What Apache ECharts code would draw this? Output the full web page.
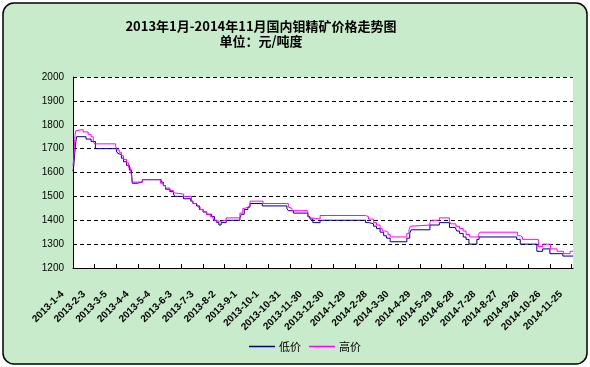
<!DOCTYPE html>
<html>
<head>
<meta charset="utf-8">
<script src="https://cdn.jsdelivr.net/npm/echarts@6/dist/echarts.min.js"></script>
<style>
html,body{margin:0;padding:0;background:#fff;}
#c{width:590px;height:367px;}
</style>
</head>
<body>
<div id="c"></div>
<script>
const titleText = '2013年1月-2014年11月国内钼精矿价格走势图';
const subTitleText = '单位：元/吨度';
const seriesNames = ['低价', '高价'];
const tickLabels = ['2013-1-4','2013-2-3','2013-3-5','2013-4-4','2013-5-4','2013-6-3','2013-7-3','2013-8-2','2013-9-1','2013-10-1','2013-10-31','2013-11-30','2013-12-30','2014-1-29','2014-2-28','2014-3-30','2014-4-29','2014-5-29','2014-6-28','2014-7-28','2014-8-27','2014-9-26','2014-10-26','2014-11-25'];
const yTicks = [1200,1300,1400,1500,1600,1700,1800,1900,2000];

const lowDates = ['2013-01-04','2013-01-05','2013-01-06','2013-01-07','2013-01-08','2013-01-09','2013-01-22','2013-01-29','2013-02-04','2013-03-05','2013-03-07','2013-03-09','2013-03-12','2013-03-15','2013-03-19','2013-03-23','2013-03-26','2013-03-27','2013-04-03','2013-04-10','2013-05-06','2013-05-09','2013-05-12','2013-05-18','2013-05-23','2013-05-25','2013-06-06','2013-06-16','2013-06-19','2013-06-24','2013-06-28','2013-07-03','2013-07-08','2013-07-15','2013-07-19','2013-07-22','2013-07-25','2013-07-28','2013-08-04','2013-08-23','2013-08-25','2013-08-29','2013-09-03','2013-09-06','2013-09-23','2013-10-27','2013-10-29','2013-11-05','2013-11-25','2013-11-28','2013-12-02','2013-12-12','2014-02-13','2014-02-18','2014-02-24','2014-02-28','2014-03-05','2014-03-10','2014-03-14','2014-03-19','2014-04-11','2014-04-15','2014-04-17','2014-05-13','2014-05-26','2014-06-09','2014-06-17','2014-06-19','2014-06-23','2014-06-28','2014-07-02','2014-07-06','2014-07-17','2014-07-20','2014-09-10','2014-09-15','2014-10-08','2014-10-16','2014-10-26','2014-11-13','2014-11-27'];
const lowPrices = [1605,1625,1665,1700,1730,1750,1740,1730,1700,1690,1680,1675,1660,1645,1630,1610,1600,1555,1560,1570,1560,1545,1530,1520,1510,1500,1490,1480,1470,1460,1445,1435,1425,1415,1400,1390,1380,1390,1400,1410,1425,1445,1455,1470,1460,1450,1440,1430,1415,1405,1390,1400,1390,1385,1375,1365,1350,1335,1325,1310,1325,1345,1360,1380,1390,1370,1365,1355,1345,1330,1320,1300,1320,1330,1320,1300,1270,1280,1260,1250,1250];

const highDates = ['2013-01-04','2013-01-05','2013-01-06','2013-01-07','2013-01-08','2013-01-09','2013-01-18','2013-01-25','2013-01-29','2013-02-01','2013-02-03','2013-03-04','2013-03-06','2013-03-09','2013-03-12','2013-03-15','2013-03-19','2013-03-22','2013-03-25','2013-03-27','2013-04-10','2013-05-05','2013-05-09','2013-05-12','2013-05-18','2013-05-23','2013-05-25','2013-06-06','2013-06-17','2013-06-19','2013-06-24','2013-06-26','2013-06-29','2013-07-03','2013-07-08','2013-07-13','2013-07-16','2013-07-18','2013-07-20','2013-07-27','2013-08-04','2013-08-23','2013-08-27','2013-08-30','2013-09-03','2013-09-06','2013-09-24','2013-10-29','2013-10-31','2013-11-03','2013-11-25','2013-11-27','2013-11-30','2013-12-12','2014-02-13','2014-02-17','2014-02-24','2014-02-28','2014-03-05','2014-03-08','2014-03-13','2014-03-16','2014-03-19','2014-04-11','2014-04-14','2014-04-16','2014-04-17','2014-05-13','2014-05-15','2014-05-26','2014-06-09','2014-06-11','2014-06-18','2014-06-23','2014-06-28','2014-07-02','2014-07-07','2014-07-19','2014-07-21','2014-09-11','2014-09-15','2014-09-18','2014-10-10','2014-10-16','2014-10-27','2014-11-05','2014-11-14','2014-11-23','2014-11-27'];
const highPrices = [1625,1660,1720,1760,1775,1780,1770,1760,1750,1730,1720,1710,1695,1685,1670,1655,1640,1620,1605,1560,1570,1555,1545,1535,1525,1515,1510,1500,1485,1470,1465,1455,1445,1435,1425,1415,1410,1400,1395,1400,1410,1430,1450,1455,1460,1480,1470,1455,1450,1440,1425,1410,1405,1420,1415,1405,1390,1380,1365,1355,1350,1340,1330,1345,1360,1375,1380,1390,1400,1410,1395,1385,1375,1365,1355,1340,1330,1340,1350,1335,1330,1320,1290,1300,1280,1270,1260,1270,1270];

function ts(s){const p=s.split('-').map(Number);return new Date(p[0],p[1]-1,p[2]).getTime();}
function pairs(d,v){return d.map((x,i)=>[ts(x),v[i]]);}
function fmt(t){const d=new Date(t);return d.getFullYear()+'-'+(d.getMonth()+1)+'-'+d.getDate();}

const chart = echarts.init(document.getElementById('c'), null, {renderer:'canvas'});
const tickVals = tickLabels.map(ts);
chart.setOption({
  animation:false,
  backgroundColor:'#ffffff',
  graphic:[
    {type:'rect', z:-10, silent:true, shape:{x:3,y:3,width:584,height:361,r:11}, style:{fill:'#C8ECCB',stroke:'#000',lineWidth:1.5}},
    {type:'text', silent:true, style:{text:titleText,x:261,y:26,textAlign:'center',textVerticalAlign:'middle',font:'bold 13px "Noto Sans CJK SC", sans-serif',fill:'#000'}},
    {type:'text', silent:true, style:{text:subTitleText,x:261,y:41,textAlign:'center',textVerticalAlign:'middle',font:'bold 13px "Noto Sans CJK SC", sans-serif',fill:'#000'}}
  ],
  legend:{
    data:seriesNames, left:244, top:336, icon:'rect', itemWidth:26, itemHeight:1.5, itemGap:8,
    textStyle:{fontSize:11, color:'#000', fontFamily:'"Noto Sans CJK SC", sans-serif', padding:[0,0,0,-1]}
  },
  grid:{left:73, right:17, top:77, bottom:99, show:true, backgroundColor:'#ffffff', borderWidth:0, containLabel:false},
  xAxis:{
    type:'value', min:ts('2013-01-04'), max:ts('2014-11-27'), scale:true,
    axisLine:{lineStyle:{color:'#000',width:1}},
    axisTick:{show:true, inside:true, length:4, lineStyle:{color:'#000'}, customValues:tickVals},
    axisLabel:{customValues:tickVals, formatter:function(v){return fmt(v);}, rotate:45, margin:14, padding:[0,15,0,0], fontSize:10, fontWeight:'bold', color:'#000', fontFamily:'"Liberation Sans", Arial, sans-serif', hideOverlap:false},
    splitLine:{show:false}
  },
  yAxis:{
    type:'value', min:yTicks[0], max:yTicks[yTicks.length-1], interval:100,
    axisLine:{show:true, lineStyle:{color:'#000',width:1}},
    axisTick:{show:true, inside:true, length:4, lineStyle:{color:'#000'}},
    axisLabel:{fontSize:10, color:'#000', margin:9, fontFamily:'"Liberation Sans", Arial, sans-serif', formatter:function(v){return String(v);}},
    splitLine:{show:true, lineStyle:{color:'#000', type:[4,3], width:1}}
  },
  series:[
    {name:seriesNames[0], type:'line', step:'end', data:pairs(lowDates,lowPrices), showSymbol:false, symbol:'none', lineStyle:{color:'#000080', width:1}, itemStyle:{color:'#000080'}},
    {name:seriesNames[1], type:'line', step:'end', data:pairs(highDates,highPrices), showSymbol:false, symbol:'none', lineStyle:{color:'#FF00FF', width:1}, itemStyle:{color:'#FF00FF'}}
  ]
});
</script>
</body>
</html>
